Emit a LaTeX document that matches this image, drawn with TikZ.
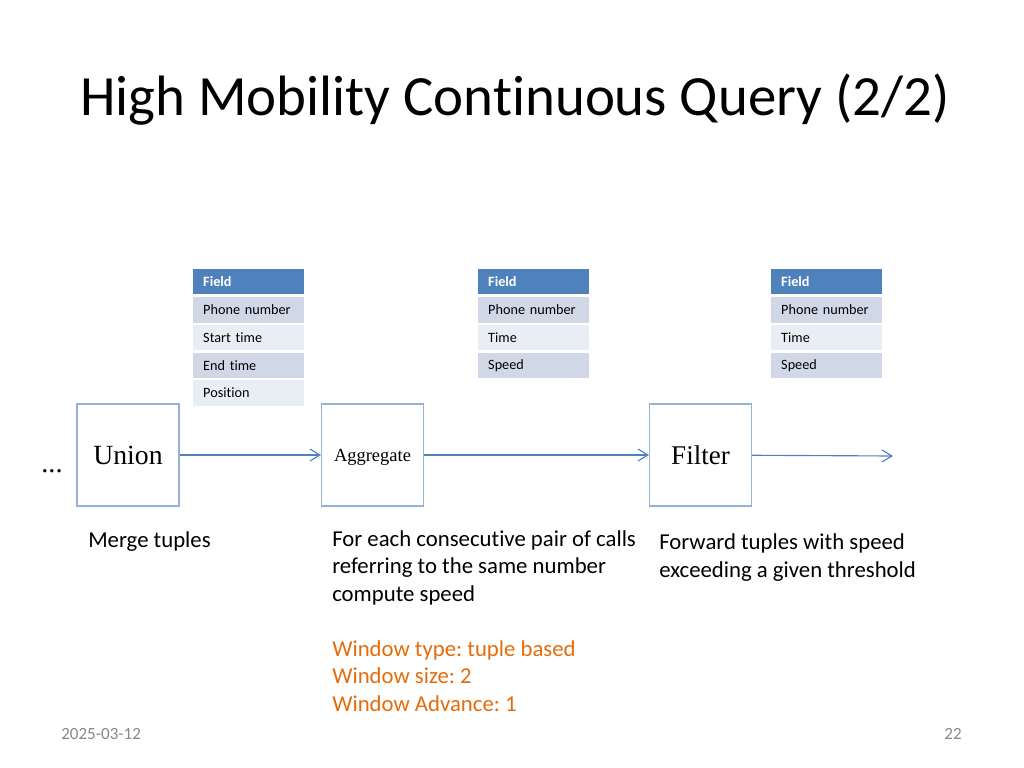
\documentclass[tikz,border=0pt]{standalone}
\usepackage{fontspec}
\setmainfont{Carlito}[Ligatures={NoCommon,NoRequired}]
\newfontfamily\boxfont{Liberation Serif}
\usetikzlibrary{arrows.meta}
\frenchspacing

\definecolor{hdrblue}{HTML}{4F81BD}
\definecolor{rowdark}{HTML}{D0D8E8}
\definecolor{rowlight}{HTML}{E9EDF4}
\definecolor{boxline}{HTML}{95B3D7}
\definecolor{winorange}{HTML}{E46C0A}
\definecolor{footgray}{HTML}{898989}

\tikzset{
	cell/.style={anchor=west,minimum height=17.6pt,inner ysep=0pt,inner xsep=7pt,
		text width=64pt,align=left,font=\fontsize{10}{12}\selectfont},
	hdr/.style={cell,fill=hdrblue,text=white,font=\fontsize{10}{12}\selectfont\bfseries},
	dark/.style={cell,fill=rowdark},
	light/.style={cell,fill=rowlight},
	op/.style={draw=boxline,line width=0.8pt,minimum size=71.7pt,inner sep=0pt},
	flow/.style={draw=hdrblue,line width=0.8pt,-{Straight Barb[length=7pt,width=8.5pt]}},
	note/.style={anchor=base west,align=left,inner sep=0pt,font=\fontsize{16}{19}\selectfont},
}

\begin{document}
\begin{tikzpicture}[x=0.703125pt,y=-0.703125pt]
	\useasboundingbox (0,0) rectangle (1024,768);
	% title
	\node[anchor=base west,inner sep=0pt,font=\fontsize{40}{48}\selectfont] (title) at (80,116) {High Mobility Continuous Query (2/2)};
	% tables
	\node[hdr] (H1) at (193,281.5) {Field};
	\node[dark] (A1) at (193,310) {Phone number};
	\node[light] (B1) at (193,337.5) {Start time};
	\node[dark] (C1) at (193,365.5) {End time};
	\node[light] (D1) at (193,393) {Position};
	\node[hdr] (H2) at (478,281.5) {Field};
	\node[dark] (A2) at (478,310) {Phone number};
	\node[light] (B2) at (478,337.5) {Time};
	\node[dark] (C2) at (478,365.5) {Speed};
	\node[hdr] (H3) at (771,281.5) {Field};
	\node[dark] (A3) at (771,310) {Phone number};
	\node[light] (B3) at (771,337.5) {Time};
	\node[dark] (C3) at (771,365.5) {Speed};
	% operators
	\node[anchor=base,inner sep=0pt,font=\boxfont\fontsize{20}{24}\selectfont] (dots) at (52,472) {...};
	\node[op,font=\boxfont\fontsize{19.5}{24}\selectfont] (U) at (128,455) {Union};
	\node[op,text depth=0pt,font=\boxfont\fontsize{13}{16}\selectfont] (A) at (372.5,455) {Aggregate};
	\node[op,font=\boxfont\fontsize{19}{24}\selectfont] (F) at (700.5,455) {Filter};
	\coordinate (E) at (893,456);
	\path[flow] (U) edge (A);
	\path[flow] (A) edge (F);
	\path[flow] (F) edge (E);
	% descriptions (base = last line)
	\node[note] (m) at (88,547) {Merge tuples};
	\node[note] (c) at (332,601) {For each consecutive pair of calls\\referring to the same number\\compute speed};
	\node[note,text=winorange] (w) at (332,711) {Window type: tuple based\\Window size: 2\\Window Advance: 1};
	\node[note] (f) at (659,577) {Forward tuples with speed\\exceeding a given threshold};
	% footer
	\node[anchor=base west,inner sep=0pt,text=footgray,font=\fontsize{12}{14}\selectfont] (date) at (61,739) {2025-03-12};
	\node[anchor=base east,inner sep=0pt,text=footgray,font=\fontsize{12}{14}\selectfont] (page) at (962,739) {22};
\end{tikzpicture}
\end{document}
